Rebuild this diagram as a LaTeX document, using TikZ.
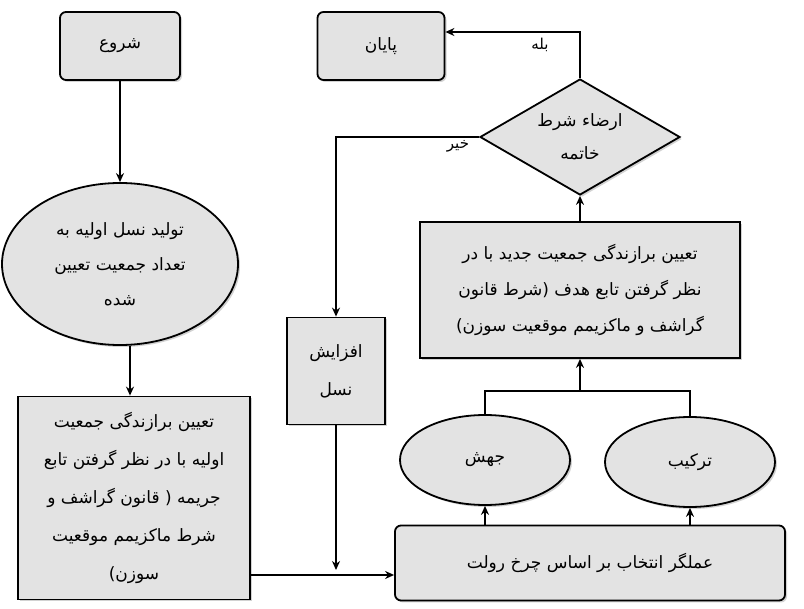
\documentclass[tikz,border=0pt]{standalone}
\usepackage{fontspec}
\TeXXeTstate=1
\newfontfamily\arabicfont[Script=Arabic]{DejaVu Sans}
\usetikzlibrary{shapes.geometric,shadows,arrows.meta}
\newcommand{\fa}[1]{{\arabicfont\beginR #1\endR}}
\begin{document}
\begin{tikzpicture}[x=1pt,y=-1pt,
  box/.style={draw=black,line width=1.8pt,fill=gray!22,drop shadow={opacity=0.35,shadow xshift=2pt,shadow yshift=-2pt},font=\fontsize{17}{27}\selectfont,align=center,inner sep=0pt},
  ln/.style={line width=1.4pt},
  arr/.style={ln,-{Stealth[length=9pt,width=8pt]}},
  lbl/.style={font=\fontsize{15}{16}\selectfont}]
\useasboundingbox[fill=white] (0,0) rectangle (804,609);
\node[box,rounded corners=6pt,minimum width=120pt,minimum height=68pt] (start) at (120,46) {\fa{شروع}};
\node[box,rounded corners=6pt,minimum width=127pt,minimum height=68pt] (end) at (381,46) {\fa{پایان}};
\node[box,ellipse,minimum width=236pt,minimum height=162pt,inner sep=-20pt,font=\fontsize{17}{35}\selectfont] (init) at (120,264) {\fa{تولید نسل اولیه به}\\\fa{تعداد جمعیت تعیین}\\\fa{شده}};
\node[box,minimum width=232pt,minimum height=203pt,font=\fontsize{17}{38}\selectfont] (fit1) at (134,498) {\fa{تعیین برازندگی جمعیت}\\\fa{اولیه با در نظر گرفتن تابع}\\\fa{جریمه ( قانون گراشف و}\\\fa{شرط ماکزیمم موقعیت}\\\fa{سوزن)}};
\node[box,diamond,aspect=1.7,minimum width=200pt,minimum height=116pt,inner sep=-16pt,font=\fontsize{17}{33}\selectfont] (dec) at (580,137) {\fa{ارضاء شرط}\\\fa{خاتمه}};
\node[box,minimum width=320pt,minimum height=136pt,font=\fontsize{17}{36}\selectfont] (fit2) at (580,290) {\fa{تعیین برازندگی جمعیت جدید با در}\\\fa{نظر گرفتن تابع هدف (شرط قانون}\\\fa{گراشف و ماکزیمم موقعیت سوزن)}};
\node[box,minimum width=98pt,minimum height=107pt,font=\fontsize{17}{38}\selectfont] (inc) at (336,371) {\fa{افزایش}\\\fa{نسل}};
\node[box,ellipse,minimum width=170pt,minimum height=90pt] (mut) at (485,460) {\fa{جهش}};
\node[box,ellipse,minimum width=170pt,minimum height=90pt] (cross) at (690,462) {\fa{ترکیب}};
\node[box,rounded corners=6pt,minimum width=390pt,minimum height=75pt] (sel) at (590,563) {\fa{عملگر انتخاب بر اساس چرخ رولت}};
\draw[arr] (start) -- (init);
\draw[arr] (init.south) ++(10,0) coordinate (a1) -- (a1 |- fit1.north);
\draw[arr] (fit1.east |- 0,575) -- (sel.west |- 0,575);
\draw[arr] (sel.north -| mut) -- (mut.south);
\draw[arr] (sel.north -| cross) -- (cross.south);
\draw[ln] (mut.north) -- ++(0,-23) coordinate (j1) -| (cross.north);
\draw[arr] (j1 -| fit2) -- (fit2.south);
\draw[arr] (fit2.north) -- (dec.south);
\draw[arr] (dec.north) |- (end.east |- 0,32);
\draw[arr] (dec.west) -| (inc.north);
\draw[arr] (inc.south) -- (inc.center |- 0,570);
\node[lbl] (yes) at (540,45) {\fa{بله}};
\node[lbl] (no) at (458,146) {\fa{خیر}};
\end{tikzpicture}
\end{document}
